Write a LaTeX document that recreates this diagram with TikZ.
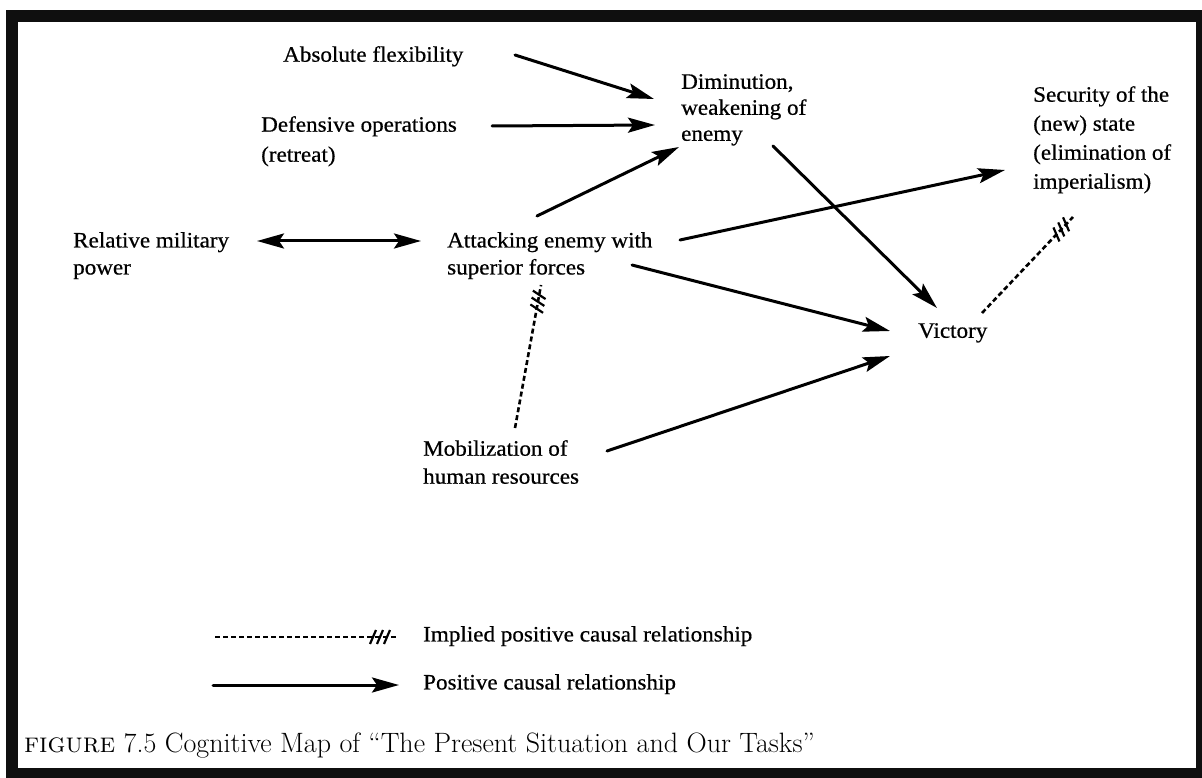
\documentclass[tikz,border=0pt]{standalone}
\usepackage{fontspec}
\newfontfamily\labelfont[FakeStretch=1.05,FakeBold=0.6]{Liberation Serif}
\usetikzlibrary{arrows.meta,decorations.markings}
\begin{document}
\begin{tikzpicture}[x=1pt,y=-1pt,
  lbl/.style={anchor=north west, inner sep=0pt, align=left,
    font=\labelfont\fontsize{22}{27}\selectfont},
  causal/.style={line width=3pt, line cap=round,
    -{Stealth[length=27pt,width=15pt,inset=5pt]}},
  mutual/.style={line width=3pt,
    {Stealth[length=27pt,width=15pt,inset=5pt]}-{Stealth[length=27pt,width=15pt,inset=5pt]}},
  hatchmark/.style={solid, line width=2.2pt},
  implied/.style={line width=2.6pt, dash pattern=on 5pt off 3pt,
    postaction={decorate},
    decoration={markings,
      mark=at position -10pt with {\draw[hatchmark] (-3pt,-7pt) -- (3pt,7pt);},
      mark=at position -17pt with {\draw[hatchmark] (-3pt,-7pt) -- (3pt,7pt);},
      mark=at position -24pt with {\draw[hatchmark] (-3pt,-7pt) -- (3pt,7pt);}}}
]
\useasboundingbox (0,0) rectangle (1202,778);

% frame of the figure
\fill[black!94] (6,10) rectangle (1202,778);
\fill[white] (18,22) rectangle (1196,768);

% concepts
\node[lbl] (abs) at (283,46) {Absolute flexibility};
\node[lbl, font=\labelfont\fontsize{22}{30}\selectfont] (def) at (261,116) {Defensive operations\\(retreat)};
\node[lbl, font=\labelfont\fontsize{22}{26}\selectfont] (dim) at (681,74) {Diminution,\\weakening of\\enemy};
\node[lbl, font=\labelfont\fontsize{22}{29}\selectfont] (sec) at (1033,86) {Security of the\\(new) state\\(elimination of\\imperialism)};
\node[lbl] (rel) at (73,232) {Relative military\\power};
\node[lbl] (att) at (447,232) {Attacking enemy with\\superior forces};
\node[lbl] (vic) at (918,323) {Victory};
\node[lbl, font=\labelfont\fontsize{22}{28}\selectfont] (mob) at (423,440) {Mobilization of\\human resources};

% causal links
\draw[causal] ([shift={(232,9)}]abs.north west) -- ([shift={(-27,25)}]dim.north west);
\draw[causal] ([shift={(231,10)}]def.north west) -- ([shift={(-26,51)}]dim.north west);
\draw[causal] ([shift={(90,-16)}]att.north west) -- ([shift={(-2,73)}]dim.north west);
\draw[mutual] ([shift={(184,9)}]rel.north west) -- ([shift={(-26,9)}]att.north west);
\draw[causal] ([shift={(233,8)}]att.north west) -- ([shift={(-28,84)}]sec.north west);
\draw[causal] ([shift={(92,72)}]dim.north west) -- ([shift={(19,-15)}]vic.north west);
\draw[causal] ([shift={(185,33)}]att.north west) -- ([shift={(-28,8)}]vic.north west);
\draw[causal] ([shift={(184,11)}]mob.north west) -- ([shift={(-28,33)}]vic.north west);

% implied links
\draw[implied] ([shift={(92,-12)}]mob.north west) -- ([shift={(94,53)}]att.north west);
\draw[implied] ([shift={(64,-10)}]vic.north west) -- ([shift={(40,131)}]sec.north west);

% legend
\coordinate (impA) at (215,637);
\coordinate (impB) at (397,637);
\coordinate (posA) at (213,685);
\coordinate (posB) at (399,685);
\draw[implied] (impA) -- (impB);
\draw[causal] (posA) -- (posB);
\node[lbl] (impT) at (423,626) {Implied positive causal relationship};
\node[lbl] (posT) at (423,674) {Positive causal relationship};

% caption
\node[anchor=base west, inner sep=0pt, font=\fontsize{28}{30}\selectfont] (cap) at (24,752)
  {\textsc{figure} 7.5 Cognitive Map of “The Present Situation and Our Tasks”};
\end{tikzpicture}
\end{document}
